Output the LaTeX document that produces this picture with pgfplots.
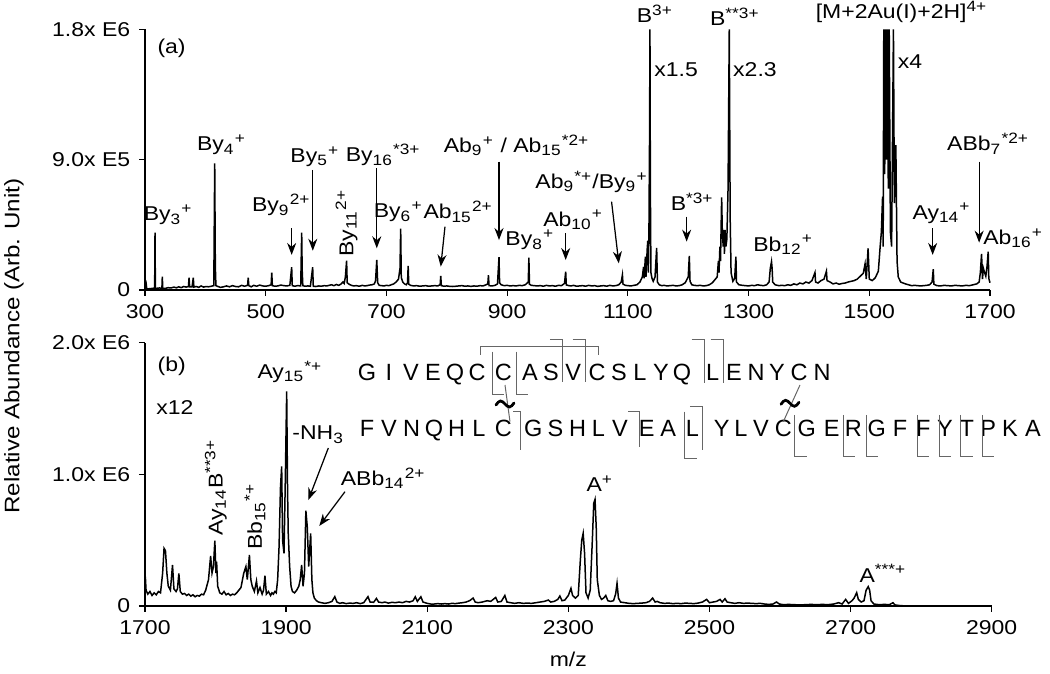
\documentclass[border=0pt]{standalone}
\usepackage{fontspec}
\setmainfont{Liberation Sans}[FakeStretch=1.15]
\newfontfamily\seqfont{Liberation Sans}
\usepackage{pgfplots}
\pgfplotsset{compat=1.18}
\usetikzlibrary{arrows.meta}

% intensities are in units of 10^3
\pgfplotsset{
  ms/.style={
    scale only axis, anchor=south west,
    axis x line=bottom, axis y line=left,
    axis line style={-, line width=0.6pt},
    tick align=outside, major tick length=2.4pt,
    tick style={black, line width=0.5pt},
    enlargelimits=false, clip=false,
    ticklabel style={font=\fontsize{8}{9.6}\selectfont},
    label style={font=\fontsize{8}{9.6}\selectfont},
    /pgf/number format/1000 sep={},
    /pgf/number format/assume math mode=true,
  },
  spec/.style={black, line width=0.6pt, no marks, sharp plot},
}
\tikzset{
  lbl/.style={font=\fontsize{8}{9.6}\selectfont, inner sep=0pt},
  arr/.style={-{Stealth[length=4.8pt,width=3.6pt]}, line width=0.5pt},
  br/.style={black!60, line width=0.4pt},
  aa/.style={anchor=base, inner sep=0pt, font=\seqfont\fontsize{9.4}{11}\selectfont},
  tld/.style={black, line width=1.1pt, line cap=round},
}

\begin{document}
\begin{tikzpicture}
\path[use as bounding box] (0,0) rectangle (420pt,269.6pt);

% ---------------- (a) ----------------
\begin{axis}[ms, at={(58pt,153.6pt)}, width=338pt, height=104.24pt,
  xmin=300, xmax=1700, ymin=0, ymax=1800,
  xtick={300,500,...,1700}, ytick={0,900,1800},
  yticklabels={0,9.0x E5,1.8x E6}]
\addplot[spec] coordinates {
(300,5) (302,40) (303,6) (306,8) (310,10) (314,12) (316,8) (316.6,396) (317.2,10)
(320,12) (324,14) (328,12) (328.7,92) (329.4,12) (333,10) (338,16) (343,14) (348,20)
(352,15) (356,22) (360,16) (364,24) (368,20) (372,24) (373,85) (374,22) (378,22)
(380,85) (381,20) (385,24) (389,18) (393,28) (397,20) (401,24) (405,22) (410,26)
(414,30) (415.5,875) (416.5,166) (417.5,30) (421,24) (425,18) (430,22) (435,28)
(440,22) (445,30) (450,24) (455,22) (460,32) (465,26) (470,32) (471,85) (472,30)
(476,22) (480,32) (485,26) (490,34) (495,28) (500,26) (505,30) (509,36) (510,120)
(511,30) (515,26) (520,28) (525,34) (530,30) (535,28) (540,32) (543,157) (544,30)
(548,26) (553,30) (558,28) (559.6,396) (560.4,140) (561.5,30) (565,26) (570,28)
(574,26) (577.8,157) (578.8,26) (583,24) (588,28) (592,26) (597,30) (601,28)
(605,32) (609,36) (613,30) (617,38) (621,32) (625,42) (628,55) (630,45) (632,90)
(634,203) (635,50) (638,40) (642,32) (646,28) (650,30) (655,26) (660,32) (664,28)
(668,30) (672,34) (676,36) (680,42) (682,65) (684,207) (685.5,50) (688,32) (692,30)
(696,28) (700,32) (704,30) (708,36) (712,42) (716,55) (720,75) (722.5,150)
(723.6,424) (724.6,85) (727,55) (730,42) (733,36) (735,50) (736,166) (737,40)
(740,32) (745,28) (750,30) (755,26) (760,28) (765,30) (770,26) (775,28) (780,30)
(785,28) (789,36) (790,97) (791,30) (795,26) (800,28) (805,25) (810,24) (815,26)
(820,28) (825,30) (830,26) (835,28) (840,25) (845,28) (850,26) (855,30) (860,28)
(865,36) (868,42) (869,102) (870,30) (875,28) (880,32) (884,42) (886.5,226)
(887.5,50) (890,36) (895,30) (900,32) (905,28) (910,30) (915,28) (920,32) (925,30)
(930,36) (935,55) (936,223) (937,40) (940,32) (945,30) (950,28) (955,30) (960,26)
(965,32) (970,28) (975,30) (980,26) (985,32) (990,30) (995,45) (997,127) (998,35)
(1002,30) (1006,28) (1010,32) (1015,26) (1020,28) (1025,30) (1030,26) (1035,32)
(1040,28) (1045,30) (1050,25) (1055,28) (1060,30) (1065,26) (1070,32) (1075,28)
(1080,30) (1085,36) (1089,55) (1091,104) (1092,40) (1096,32) (1100,30) (1105,28)
(1110,32) (1115,36) (1120,55) (1124,90) (1126,160) (1127,80) (1129,230) (1130,90)
(1132,280) (1133,340) (1134,120) (1135,450) (1136,1100) (1136.6,1800) (1137.3,700)
(1138.2,120) (1140,80) (1142,60) (1145,90) (1147.7,290) (1149,55) (1152,36)
(1156,30) (1160,32) (1165,28) (1170,30) (1175,32) (1180,28) (1185,30) (1190,36)
(1195,50) (1200,90) (1201.8,235) (1203,60) (1206,36) (1210,32) (1215,30) (1220,32)
(1225,28) (1230,30) (1235,36) (1240,50) (1244,70) (1248,90) (1250,200) (1251,120)
(1252.5,300) (1253.5,200) (1255.4,640) (1256.5,400) (1258,300) (1259,415)
(1260,250) (1261,415) (1262.5,300) (1264,350) (1266,700) (1268,1800) (1269.5,500)
(1271,120) (1274,60) (1277,80) (1279,230) (1280,55) (1284,36) (1290,32) (1295,30)
(1300,28) (1305,32) (1310,30) (1315,36) (1320,32) (1325,30) (1330,36) (1334,55)
(1336,150) (1338,196) (1339,150) (1340,55) (1344,36) (1350,30) (1355,32) (1360,30)
(1365,36) (1370,32) (1375,42) (1380,36) (1385,48) (1390,42) (1395,55) (1400,48)
(1405,65) (1410,120) (1411,55) (1415,48) (1420,65) (1425,75) (1429,130) (1430,65)
(1435,55) (1440,42) (1445,48) (1450,40) (1455,45) (1460,48) (1465,55) (1470,60)
(1475,65) (1480,75) (1485,95) (1490,115) (1493,180) (1495,75) (1498,288) (1500,75)
(1505,65) (1510,85) (1515,130) (1518,300) (1520,400) (1522,645) (1523,300)
(1524,1800) (1525.5,800) (1527,1800) (1528.5,900) (1530,1800) (1531.5,700)
(1533,1800) (1535,400) (1537,300) (1540,1800) (1541.5,600) (1544,1000) (1546,200)
(1548,90) (1552,55) (1556,48) (1560,42) (1565,36) (1570,30) (1575,32) (1580,30)
(1585,28) (1590,30) (1595,32) (1600,36) (1604,55) (1606,143) (1607,40) (1612,30)
(1618,28) (1624,32) (1630,30) (1636,28) (1642,32) (1648,30) (1654,28) (1660,32)
(1666,30) (1672,36) (1678,42) (1682,55) (1684,120) (1686,249) (1687.5,75)
(1689,150) (1691,120) (1693,95) (1695,160) (1697,265) (1698,80) (1700,50)
};
\node[lbl] at (axis cs:344,1670) {(a)};
\node[lbl] at (axis cs:338.6,518) {By\textsubscript{3}\textsuperscript{+}};
\node[lbl] at (axis cs:427,1000) {By\textsubscript{4}\textsuperscript{+}};
\node[lbl] at (axis cs:526,587) {By\textsubscript{9}\textsuperscript{2+}};
\draw[arr] (axis cs:543,426) -- (axis cs:543,242);
\node[lbl] at (axis cs:581.6,921) {By\textsubscript{5}\textsuperscript{+}};
\draw[arr] (axis cs:578,829) -- (axis cs:578,271);
\node[lbl] at (axis cs:694.8,932) {By\textsubscript{16}\textsuperscript{*3+}};
\draw[arr] (axis cs:684,840) -- (axis cs:684,288);
\node[lbl, rotate=90] at (axis cs:634,463) {By\textsubscript{11}\textsuperscript{2+}};
\node[lbl] at (axis cs:719.7,541) {By\textsubscript{6}\textsuperscript{+}};
\node[lbl] at (axis cs:819,541) {Ab\textsubscript{15}\textsuperscript{2+}};
\draw[arr] (axis cs:797,437) -- (axis cs:790,161);
\node[lbl] at (axis cs:915.8,1000) {Ab\textsubscript{9}\textsuperscript{+} / Ab\textsubscript{15}\textsuperscript{*2+}};
\draw[arr] (axis cs:886.5,886) -- (axis cs:886.5,345);
\node[lbl] at (axis cs:937.8,345) {By\textsubscript{8}\textsuperscript{+}};
\node[lbl] at (axis cs:1009.6,483) {Ab\textsubscript{10}\textsuperscript{+}};
\draw[arr] (axis cs:997,391) -- (axis cs:997,207);
\node[lbl] at (axis cs:1040,748) {Ab\textsubscript{9}\textsuperscript{*+}/By\textsubscript{9}\textsuperscript{+}};
\draw[arr] (axis cs:1073,610) -- (axis cs:1085,184);
\node[lbl] at (axis cs:1145,1910) {B\textsuperscript{3+}};
\node[lbl] at (axis cs:1180,1520) {x1.5};
\node[lbl] at (axis cs:1277.5,1890) {B\textsuperscript{**3+}};
\node[lbl] at (axis cs:1310.6,1520) {x2.3};
\node[lbl] at (axis cs:1206.7,610) {B\textsuperscript{*3+}};
\draw[arr] (axis cs:1197.4,506) -- (axis cs:1197.4,334);
\node[lbl] at (axis cs:1357.5,311) {Bb\textsubscript{12}\textsuperscript{+}};
\node[lbl] at (axis cs:1553.6,1920) {[M+2Au(I)+2H]\textsuperscript{4+}};
\node[lbl] at (axis cs:1567.4,1580) {x4};
\node[lbl] at (axis cs:1620,530) {Ay\textsubscript{14}\textsuperscript{+}};
\draw[arr] (axis cs:1605,426) -- (axis cs:1605,242);
\node[lbl] at (axis cs:1697,1010) {ABb\textsubscript{7}\textsuperscript{*2+}};
\draw[arr] (axis cs:1682,886) -- (axis cs:1682,327);
\node[lbl] at (axis cs:1738.6,357) {Ab\textsubscript{16}\textsuperscript{+}};
\end{axis}

% ---------------- (b) ----------------
\begin{axis}[ms, at={(58pt,27.2pt)}, width=338.68pt, height=105.32pt,
  xmin=1700, xmax=2900, ymin=0, ymax=2000,
  xtick={1700,1900,...,2900}, ytick={0,1000,2000},
  yticklabels={0,1.0x E6,2.0x E6}, xlabel={m/z}]
\addplot[spec] coordinates {
(1700,0) (1700.5,223) (1701.5,120) (1704,90) (1707,110) (1710,80) (1713,100)
(1716,85) (1719,110) (1722,100) (1725,250) (1727,438) (1729,420) (1731,250)
(1733,150) (1736,120) (1739,311) (1741,130) (1744,110) (1746,130) (1748,248)
(1750,110) (1753,90) (1756,95) (1759,80) (1762,90) (1765,75) (1768,85) (1771,70)
(1774,80) (1777,75) (1780,90) (1783,85) (1786,120) (1790,200) (1793,380) (1795,250)
(1797,300) (1799,496) (1800.5,250) (1801.5,336) (1803,150) (1806,100) (1809,90)
(1812,110) (1815,85) (1818,95) (1821,80) (1824,90) (1827,85) (1830,100) (1833,120)
(1836,140) (1840,250) (1843,299) (1845,200) (1848,387) (1850,200) (1852,150)
(1855,110) (1858,190) (1860,100) (1863,140) (1866,90) (1868,120) (1870,230)
(1872,90) (1875,110) (1878,80) (1880,100) (1882,90) (1884,110) (1886,100)
(1888,200) (1890,450) (1892,900) (1893.7,1060) (1895,500) (1897,400) (1899,1000)
(1900.8,1630) (1902,900) (1903,553) (1905,300) (1907,150) (1909,110) (1912,100)
(1915,120) (1918,150) (1920,200) (1922,311) (1924,150) (1926,250) (1928,724)
(1930,600) (1932,300) (1934.8,552) (1936.5,200) (1938,100) (1940,60) (1943,40)
(1946,30) (1950,25) (1955,20) (1960,25) (1965,35) (1969,71) (1972,30) (1976,20)
(1980,25) (1985,18) (1990,22) (1995,20) (2000,25) (2005,18) (2010,25) (2016,71)
(2019,30) (2024,28) (2028,57) (2031,30) (2036,25) (2040,30) (2045,22) (2050,28)
(2055,25) (2060,30) (2065,25) (2070,35) (2075,30) (2080,40) (2083,70) (2086,35)
(2091,70) (2094,30) (2100,20) (2105,15) (2110,15) (2115,18) (2120,15) (2125,18)
(2130,15) (2135,20) (2140,18) (2145,22) (2150,25) (2155,30) (2160,40) (2165,60)
(2168,30) (2172,25) (2178,30) (2185,40) (2190,35) (2197,65) (2200,30) (2205,35)
(2210,80) (2213,30) (2218,25) (2224,20) (2230,25) (2236,20) (2242,22) (2248,20)
(2254,25) (2260,30) (2266,35) (2271.6,45) (2275,30) (2280,35) (2285,50) (2288,76)
(2291,40) (2295,45) (2300,80) (2303.7,134) (2306,80) (2310,60) (2314,80) (2317,350)
(2319,500) (2321,552) (2323,400) (2325,100) (2328,60) (2331,120) (2334,500)
(2336,780) (2337.8,810) (2339.5,600) (2341,200) (2344,80) (2347,50) (2350,60)
(2353,80) (2356,40) (2360,35) (2364,40) (2367,90) (2369,172) (2371,60) (2374,30)
(2380,25) (2386,20) (2392,18) (2398,20) (2404,22) (2410,25) (2415,35) (2419.5,60)
(2423,30) (2426,35) (2430,25) (2436,20) (2442,22) (2448,18) (2454,20) (2460,18)
(2466,22) (2472,20) (2478,18) (2484,22) (2490,30) (2496,50) (2500,25) (2505,30)
(2510,35) (2515,50) (2518,30) (2522,55) (2525,30) (2530,25) (2536,20) (2542,25)
(2548,20) (2554,22) (2560,20) (2566,18) (2572,20) (2578,15) (2584,12) (2590,15)
(2595,30) (2599,15) (2605,10) (2612,12) (2620,10) (2628,8) (2636,10) (2644,12)
(2652,10) (2660,12) (2668,10) (2676,15) (2683,25) (2688,15) (2693,50) (2697,20)
(2702,40) (2705,60) (2708.6,101) (2711,50) (2715,30) (2719,40) (2722,120)
(2725,147) (2727,120) (2729,40) (2733,15) (2740,10) (2748,12) (2755,10) (2760,25)
(2763,8) (2770,3) (2780,0) (2900,0)
};
\node[lbl] at (axis cs:1737.8,1820) {(b)};
\node[lbl] at (axis cs:1742.5,1510) {x12};
\node[lbl] at (axis cs:1905.5,1780) {Ay\textsubscript{15}\textsuperscript{*+}};
\node[lbl] at (axis cs:1945.6,1300) {-NH\textsubscript{3}};
\draw[arr] (axis cs:1959.8,1200) -- (axis cs:1931.5,805);
\node[lbl] at (axis cs:2037.7,970) {ABb\textsubscript{14}\textsuperscript{2+}};
\draw[arr] (axis cs:1983.4,868) -- (axis cs:1947,608);
\node[lbl, rotate=90] at (axis cs:1800.4,900) {Ay\textsubscript{14}B\textsuperscript{**3+}};
\node[lbl, rotate=90] at (axis cs:1855.9,680) {Bb\textsubscript{15}\textsuperscript{*+}};
\node[lbl] at (axis cs:2344.8,932) {A\textsuperscript{+}};
\node[lbl] at (axis cs:2746,248) {A\textsuperscript{***+}};
\end{axis}

% y label and the sequence, in pixel units of the reference
\begin{scope}[x=0.4pt, y=-0.4pt, shift={(0pt,269.6pt)}]
\node[rotate=90, inner sep=0pt, font=\fontsize{8.4}{10}\selectfont] at (14,346)
  {Relative Abundance (Arb. Unit)};
\foreach \l/\x in {G/367,I/389,V/411,E/433,Q/455,C/477,C/503.3,A/530,S/551,
  V/573.3,C/597,S/619,L/640,Y/661,Q/682,L/712.7,E/734,N/756,Y/777,
  C/799,N/822}
  \node[aa] at (\x,381) {\l};
\foreach \l/\x in {F/367,V/389,N/411.5,Q/434,H/456.5,L/479,C/503.3,G/533.3,
  S/555.5,H/577.5,L/598.5,V/620,E/646.7,A/668.3,L/692.5,Y/721.7,L/741,V/761,C/783.3,
  G/806.7,E/831.7,R/853.3,G/876.7,F/900,F/923.3,Y/945,T/966.7,P/988.3,K/1010,A/1033}
  \node[aa] at (\x,436.7) {\l};
% row 1 brackets
\draw[br] (481,355) -- (481,346.7) -- (598.3,346.7) -- (598.3,355);
\draw[br] (492.7,351.7) -- (492.7,395) -- (504,395);
\draw[br] (516.7,351.7) -- (516.7,395) -- (528.3,395);
\draw[br] (550,340) -- (562.7,340) -- (562.7,381.7);
\draw[br] (572.7,340) -- (585.3,340) -- (585.3,381.7);
\draw[br] (691.7,340) -- (704.3,340) -- (704.3,383);
\draw[br] (710.7,340) -- (723.3,340) -- (723.3,383);
% row 2 brackets
\draw[br] (513.3,411.7) -- (521,411.7) -- (521,450);
\draw[br] (628.3,411.7) -- (639.3,411.7) -- (639.3,446.7);
\draw[br] (684.3,411.7) -- (684.3,458.3) -- (696.7,458.3);
\draw[br] (690,406.7) -- (702.3,406.7) -- (702.3,450);
\foreach \x in {795,843.3,866.7,917.7,939.3,961,982.7}
  \draw[br] (\x,415) -- (\x,456.7) -- (\x+11.7,456.7);
% disulfide links with the tilde marks
\draw[br] (505,385) -- (510,421.7);
\draw[br] (800,385) -- (783.3,421.7);
\draw[tld] (496,405) sin (500.5,401) cos (505,404) sin (509.5,407) cos (514,403);
\draw[tld] (781,404.3) sin (785.5,400.3) cos (790,403.3) sin (794.5,406.3) cos (799,402.3);
\end{scope}
\end{tikzpicture}
\end{document}
